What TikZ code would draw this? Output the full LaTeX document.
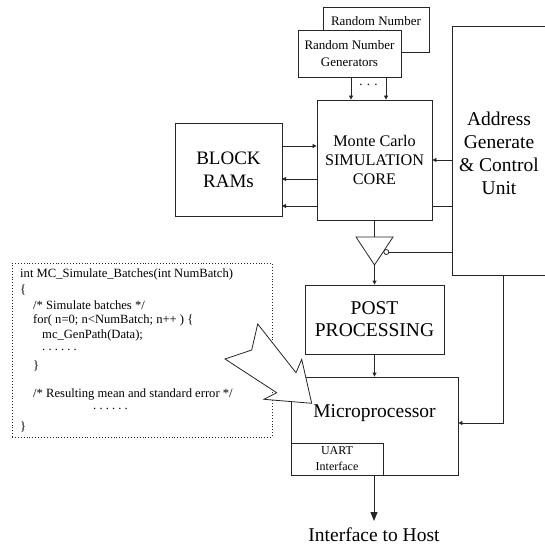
\documentclass[tikz,border=0pt]{standalone}
\usepackage{fontspec}
\setmainfont{Liberation Serif}
\usetikzlibrary{arrows.meta}
\tikzset{
  ln/.style={draw=black!85, line width=0.8pt},
  box/.style={ln, fill=white, inner sep=0pt, align=center},
  arr/.style={ln, -{Triangle[length=4pt,width=4pt]}},
  bigarr/.style={ln, -{Triangle[length=9pt,width=7pt]}},
  txt/.style={inner sep=0pt, align=center},
  code/.style={inner sep=0pt, anchor=west, font=\fontsize{12.6}{15}\selectfont},
}
\begin{document}
\begin{tikzpicture}[x=1pt,y=-1pt]
\useasboundingbox (0,0) rectangle (544,548);
% random number generators
\node[box, minimum width=106, minimum height=45] (rn2) at (376,29.5) {};
\node[txt, font=\fontsize{13}{15}\selectfont] (rn2t) at (376,21) {Random Number};
\node[box, minimum width=103, minimum height=47, font=\fontsize{13}{17}\selectfont] (rn1) at (349.5,53.5) {Random Number\\Generators};
% core
\node[box, minimum width=115, minimum height=120, font=\fontsize{16.2}{19}\selectfont] (core) at (374.5,160) {Monte Carlo\\SIMULATION\\CORE};
\node[box, minimum width=107, minimum height=93, font=\fontsize{19}{23}\selectfont] (ram) at (228.5,169.5) {BLOCK\\RAMs};
\node[box, minimum width=94, minimum height=249] (addr) at (499,150.5) {};
\node[txt, font=\fontsize{19.5}{23}\selectfont] (addrt) at (499,153) {Address\\Generate\\\&~Control\\Unit};
\node[box, minimum width=139, minimum height=69, font=\fontsize{19.5}{22}\selectfont] (post) at (374.5,319.5) {POST\\PROCESSING};
\node[box, minimum width=167, minimum height=98] (micro) at (374.5,426) {};
\node[txt, font=\fontsize{19.5}{22}\selectfont] (microt) at (374.5,413) {Microprocessor};
\node[box, minimum width=92, minimum height=32, font=\fontsize{12}{16}\selectfont] (uart) at (337,459) {UART\\Interface};
\node[txt, font=\fontsize{19.5}{22}\selectfont] (host) at (374,535) {Interface to Host};
% RNG arrows
\coordinate (ra1) at (351,77);
\coordinate (ra2) at (386,77);
\draw[arr] (ra1) -- (ra1 |- core.north);
\draw[arr] (ra2) -- (ra2 |- core.north);
\node[txt, font=\fontsize{13}{13}\selectfont] (dots) at (368.5,85) {.\,\,.\,\,.};
% ram arrows
\coordinate (b1) at (282,146);
\coordinate (b2) at (282,179);
\coordinate (b3) at (282,206);
\draw[arr] (b1) -- (b1 -| core.west);
\draw[arr] (b2 -| core.west) -- (b2);
\draw[arr] (b3 -| core.west) -- (b3);
% address to core
\coordinate (a1) at (452,160);
\coordinate (a2) at (452,206);
\draw[arr] (a1) -- (a1 -| core.east);
\draw[ln] (a2 -| core.east) -- (a2);
% buffer
\coordinate (tl) at (356,237);
\coordinate (tr) at (393,237);
\coordinate (tip) at (374.5,265);
\draw[ln] (core.south) -- (374.5,237);
\draw[ln] (tl) -- (tr) -- (tip) -- cycle;
\node[circle, ln, fill=white, minimum size=5pt, inner sep=0pt] (bub) at (386.3,252) {};
\draw[ln] (bub.east) -- (bub.east -| addr.west);
\draw[arr] (tip) -- (post.north);
\draw[arr] (post.south) -- (micro.north);
% address to micro
\coordinate (m1) at (503,275);
\coordinate (m2) at (503,423);
\draw[arr] (m1) -- (m2) -- (m2 -| micro.east);
% uart to host
\coordinate (u1) at (374,475);
\coordinate (u2) at (374,521);
\draw[bigarr] (u1) -- (u2);
% code box
\node[draw=black!85, dotted, line width=0.9pt, minimum width=260, minimum height=174, inner sep=0pt] (codebox) at (142,350) {};
\node[code] (c1) at (20,274) {int MC\_Simulate\_Batches(int NumBatch)};
\node[code] (c2) at (20,289.5) {\{};
\node[code] (c3) at (33,305) {/* Simulate batches */};
\node[code] (c4) at (33,320) {for( n=0; n<NumBatch; n++ ) \{};
\node[code] (c5) at (42,335.5) {mc\_GenPath(Data);};
\node[code] (c6) at (42,350) {.~.~.~.~.~.};
\node[code] (c7) at (33,366) {\}};
\node[code] (c8) at (33,394) {/* Resulting mean and standard error */};
\node[code] (c9) at (93,409) {.~.~.~.~.~.};
\node[code] (c10) at (20,427) {\}};
% callout
\draw[ln, fill=white, line join=miter] (257.7,324) -- (296,372.7) -- (301.7,359.3) -- (311.7,403.3) -- (264,399.3) -- (276.7,392.7) -- (225,359) -- (251.7,350) -- cycle;
\end{tikzpicture}
\end{document}
